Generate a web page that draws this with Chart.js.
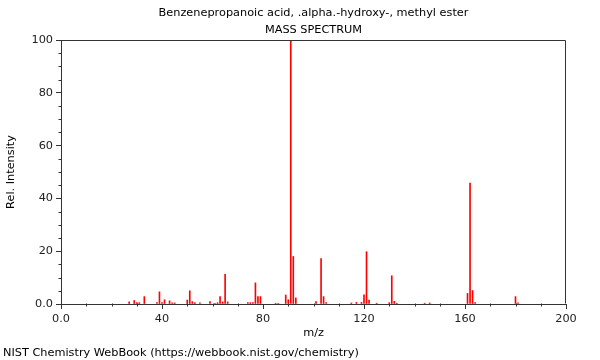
<!DOCTYPE html>
<html>
<head>
<meta charset="utf-8">
<script src="https://cdn.jsdelivr.net/npm/chart.js@4/dist/chart.umd.min.js"></script>
<style>
html,body{margin:0;padding:0;background:#fff;}
canvas{display:block;}
</style>
</head>
<body>
<canvas id="c" width="600" height="360"></canvas>
<script>
const titleLines = ['Benzenepropanoic acid, .alpha.-hydroxy-, methyl ester', 'MASS SPECTRUM'];
const footerText = 'NIST Chemistry WebBook (https://webbook.nist.gov/chemistry)';
const xTitle = 'm/z';
const yTitle = 'Rel. Intensity';

const mz = [27,29,30,31,33,38,39,40,41,43,44,45,50,51,52,53,55,59,61,62,63,64,65,66,74,75,76,77,78,79,85,86,89,90,91,92,93,101,103,104,105,115,117,119,120,121,122,125,130,131,132,133,144,146,161,162,163,164,180,181];
const intensity = [0.8,1.3,0.5,0.5,2.8,0.5,4.6,0.5,1.6,1.2,0.4,0.4,1.5,5.0,0.9,0.5,0.4,0.9,0.3,0.5,2.8,0.8,11.2,0.8,0.5,0.5,0.5,8.0,2.8,2.8,0.3,0.3,3.4,1.6,100,18.0,2.3,0.9,17.2,2.8,0.5,0.4,0.6,0.6,3.5,19.8,1.5,0.3,0.5,10.7,1.0,0.3,0.3,0.4,4.0,45.8,5.1,0.5,2.8,0.4];

const xMajorTicks = [0,40,80,120,160,200];
const xMinorTicks = [10,20,30,50,60,70,90,100,110,130,140,150,170,180,190];
const yMajorTicks = [0,20,40,60,80,100];
const yMinorTicks = [5,10,15,25,30,35,45,50,55,65,70,75,85,90,95];

const FONT = 'DejaVu Sans';
const FSIZE = 11.3;
Chart.defaults.font.family = FONT;
Chart.defaults.font.size = FSIZE;
Chart.defaults.color = '#000';

const axisColor = '#333';

const decor = {
  id: 'decor',
  afterDraw(chart) {
    const ctx = chart.ctx;
    const a = chart.chartArea;
    const xs = chart.scales.x, ys = chart.scales.y;
    ctx.save();
    ctx.strokeStyle = axisColor;
    ctx.lineWidth = 1;
    const L = Math.round(a.left) + 0.5, R = Math.round(a.right) - 0.5;
    const T = Math.round(a.top) + 0.5, B = Math.round(a.bottom) - 0.5;
    ctx.beginPath();
    ctx.moveTo(L, T); ctx.lineTo(R, T); ctx.lineTo(R, B);
    ctx.stroke();
    ctx.beginPath();
    xMinorTicks.forEach(v => {
      const px = Math.round(xs.getPixelForValue(v)) + 0.5;
      ctx.moveTo(px, B); ctx.lineTo(px, B + 3);
    });
    yMinorTicks.forEach(v => {
      const py = Math.round(ys.getPixelForValue(v)) + 0.5;
      ctx.moveTo(L, py); ctx.lineTo(L - 3, py);
    });
    ctx.stroke();
    ctx.fillStyle = '#000';
    ctx.font = FSIZE + 'px "' + FONT + '"';
    ctx.textAlign = 'center';
    ctx.textBaseline = 'middle';
    const cx = (a.left + a.right) / 2;
    ctx.fillText(titleLines[0], cx, 13);
    ctx.fillText(titleLines[1], cx, 30);
    ctx.textAlign = 'left';
    ctx.fillText(footerText, 3, 353);
    ctx.restore();
  }
};

new Chart(document.getElementById('c'), {
  type: 'bar',
  data: {
    datasets: [{
      data: mz.map((m, i) => ({x: m, y: intensity[i]})),
      backgroundColor: 'rgb(255,0,0)',
      borderWidth: 0,
      barThickness: 1,
      grouped: false
    }]
  },
  options: {
    responsive: false,
    animation: false,
    devicePixelRatio: 1,
    layout: {padding: {top: 40, right: 34, bottom: 20, left: 0}},
    plugins: {legend: {display: false}, tooltip: {enabled: false}, title: {display: false}},
    scales: {
      x: {
        type: 'linear',
        min: 0, max: 200,
        offset: false,
        afterBuildTicks: s => { s.ticks = xMajorTicks.map(v => ({value: v})); },
        afterFit: s => { s.height = 36; },
        ticks: {
          padding: 3, maxRotation: 0, autoSkip: false, color: '#222',
          callback: v => v === 0 ? '0.0' : String(v)
        },
        grid: {offset: false, drawOnChartArea: false, drawTicks: true, tickLength: 5, color: axisColor},
        border: {display: true, color: axisColor},
        title: {display: true, text: xTitle, padding: {top: 0, bottom: 0}, color: '#000', font: {size: FSIZE}}
      },
      y: {
        type: 'linear',
        min: 0, max: 100,
        afterBuildTicks: s => { s.ticks = yMajorTicks.map(v => ({value: v})); },
        afterFit: s => { s.width = 61; },
        ticks: {
          padding: 3, color: '#222',
          callback: v => v === 0 ? '0.0' : String(v)
        },
        grid: {drawOnChartArea: false, drawTicks: true, tickLength: 5, color: axisColor},
        border: {display: true, color: axisColor},
        title: {display: true, text: yTitle, padding: {top: 4, bottom: 4}, color: '#000', font: {size: FSIZE}}
      }
    }
  },
  plugins: [decor]
});
</script>
</body>
</html>
